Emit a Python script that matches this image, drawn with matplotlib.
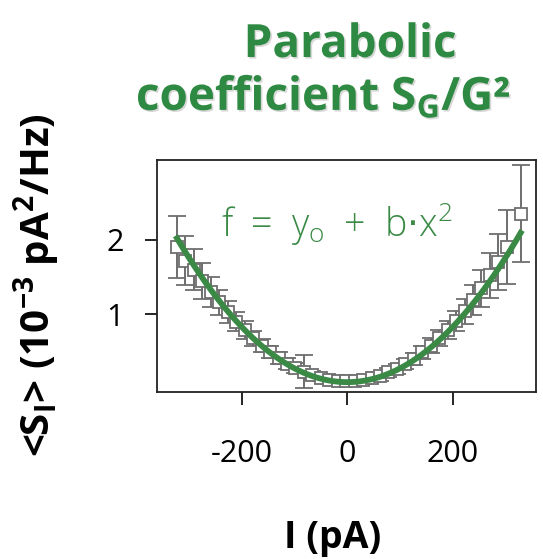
import numpy as np
import matplotlib
matplotlib.use("Agg")
import matplotlib.pyplot as plt
import matplotlib.patheffects as pe

# current (pA)
current = [-322, -306, -290, -274, -258, -242, -226, -210, -194, -178,
           -162, -146, -130, -114, -98, -82, -66, -50, -34, -18,
           -2, 14, 30, 46, 62, 78, 94, 110, 126, 142,
           158, 174, 190, 206, 222, 238, 254, 270, 286, 302, 328]
# <S_I> (1e-3 pA^2/Hz)
noise = [1.90, 1.72, 1.60, 1.45, 1.30, 1.16, 1.03, 0.90, 0.79, 0.68,
         0.58, 0.49, 0.41, 0.34, 0.28, 0.23, 0.18, 0.15, 0.12, 0.11,
         0.10, 0.10, 0.12, 0.14, 0.17, 0.22, 0.27, 0.33, 0.40, 0.49,
         0.58, 0.68, 0.79, 0.91, 1.04, 1.19, 1.35, 1.52, 1.70, 1.90, 2.35]
noise_err = [0.42, 0.33, 0.28, 0.24, 0.20, 0.17, 0.15, 0.13, 0.12, 0.10,
             0.09, 0.08, 0.08, 0.07, 0.07, 0.22, 0.06, 0.05, 0.05, 0.05,
             0.05, 0.05, 0.05, 0.05, 0.06, 0.06, 0.07, 0.07, 0.08, 0.09,
             0.10, 0.11, 0.12, 0.14, 0.17, 0.20, 0.25, 0.30, 0.38, 0.50, 0.65]

# parabolic fit f = y0 + b*x^2
y0 = 0.09
b = 1.86e-5
fit_range = (-322, 328)

GREEN = "#2e8a42"
FIT_GREEN = "#3a8a46"
GRAY = "#6e6e6e"

plt.rcParams["font.family"] = ["Open Sans", "DejaVu Sans"]

fig = plt.figure(figsize=(5.43, 5.59), dpi=100)
ax = fig.add_axes([0.289, 0.299, 0.698, 0.415])

ax.errorbar(current, noise, yerr=noise_err, fmt="s", mfc="white", mec=GRAY,
            ms=9, mew=1.3, ecolor=GRAY, elinewidth=1.4, capsize=6.5, capthick=1.4,
            zorder=2)

xs = np.linspace(fit_range[0], fit_range[1], 200)
ax.plot(xs, y0 + b * xs ** 2, color=FIT_GREEN, lw=4.2, zorder=3)

ax.set_xlim(-360, 357)
ax.set_ylim(-0.04, 3.07)
ax.set_xticks([-200, 0, 200])
ax.set_yticks([1, 2])
ax.set_xticklabels(["-200", "0", "200"])
ax.tick_params(axis="x", direction="out", length=9, width=1.2, pad=25,
               labelsize=22)
ax.tick_params(axis="y", direction="out", length=9, width=1.2, pad=15,
               labelsize=22)
for s in ax.spines.values():
    s.set_linewidth(1.3)
    s.set_color("#222222")

ax.text(0.475, 0.72, "f\u2002=\u2002y$_\\mathregular{o}$\u2002+\u2002b$\\cdot$x$^\\mathregular{2}$",
        transform=ax.transAxes, ha="center", va="center", color=FIT_GREEN,
        fontsize=27, fontweight="light")

fig.text(0.613, 0.02, "I (pA)", ha="center", va="baseline", fontsize=27,
         fontweight="bold")
fig.text(0.068, 0.49, r"<S$_\mathregular{I}$> (10$^\mathregular{-3}$ pA$^\mathregular{2}$/Hz)",
         rotation=90, ha="center", va="center", fontsize=29, fontweight="bold")

shadow = [pe.withSimplePatchShadow(offset=(1.2, -1.2), shadow_rgbFace="#aaaaaa", alpha=0.45)]
fig.text(0.645, 0.898, "Parabolic", ha="center", va="baseline", color=GREEN,
         fontsize=33, fontweight="bold", path_effects=shadow)
fig.text(0.596, 0.803, r"coefficient S$_\mathregular{G}$/G²", ha="center",
         va="baseline", color=GREEN, fontsize=33, fontweight="bold",
         path_effects=shadow)

fig.savefig("out.png", dpi=100)
